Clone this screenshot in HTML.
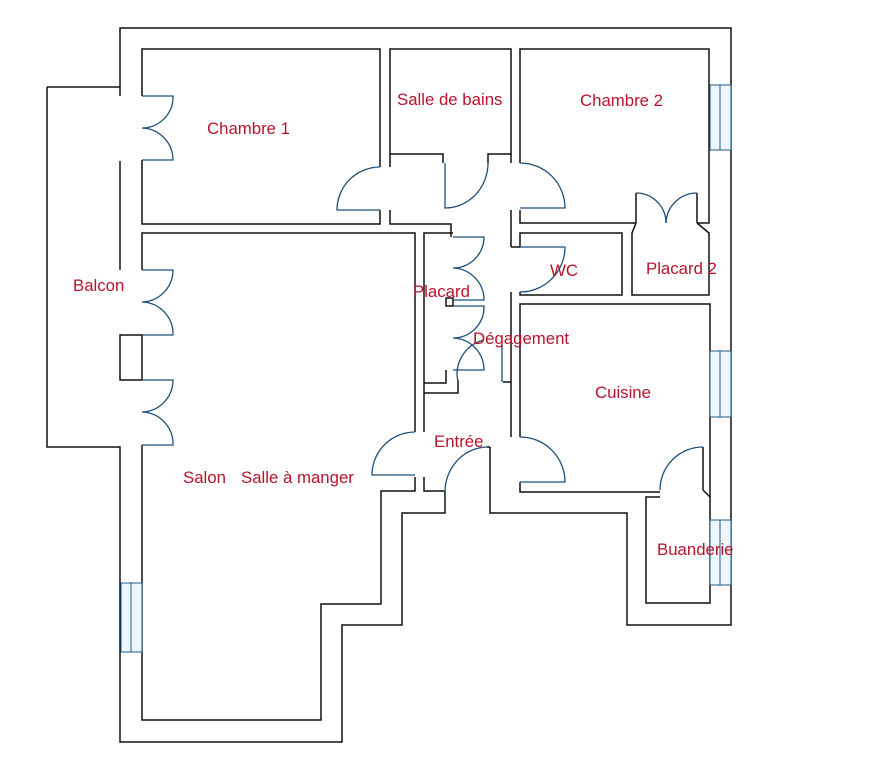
<!DOCTYPE html>
<html><head><meta charset="utf-8"><style>
html,body{margin:0;padding:0;background:#fff;}
svg{display:block}
text{font-family:"Liberation Sans",sans-serif;font-size:16.8px;fill:#b8142c;}
</style></head><body>
<svg width="870" height="763" viewBox="0 0 870 763" xmlns="http://www.w3.org/2000/svg">
<g fill="none" stroke="#111" stroke-width="1.5">
<polyline points="47,87 120,87 120,28 731,28 731,625 627,625 627,513 490,513 490,492"/>
<polyline points="445,491 445,513 402,513 402,625 342,625 342,742 120,742 120,447 47,447 47,87"/>
<polyline points="120,96 120,87"/>
<polyline points="120,161 120,270"/>
<rect x="120" y="335" width="22" height="45"/>
<polyline points="142,96 142,49 380,49 380,167"/>
<polyline points="142,160 142,224 380,224 380,210"/>
<polyline points="142,270 142,233 415,233 415,432"/>
<polyline points="142,445 142,720 321,720 321,604 381,604 381,491 415,491 415,477"/>
<polyline points="424,477 424,491 445,491"/>
<polyline points="390,167 390,49 511,49 511,163"/>
<polyline points="390,154 443,154 443,163"/>
<polyline points="488,163 488,154 511,154"/>
<polyline points="390,210 390,224 424,224"/>
<polyline points="520,163 520,49 709,49 709,223 697,223"/>
<polyline points="520,210 520,223 636,223"/>
<polyline points="511,210 511,247"/>
<polyline points="520,247 520,233 622,233 622,295 520,295 520,292"/>
<polyline points="511,247 520,247"/>
<polyline points="636,223 632,233 632,295 709,295 709,233 697,223"/>
<line x1="636" y1="193" x2="636" y2="223"/>
<line x1="697" y1="193" x2="697" y2="223"/>
<polyline points="424,224 451,224 451,237"/>
<polyline points="424,393 424,233 453,233"/>
<polyline points="424,383 446,383 446,370"/>
<polyline points="424,393 458,393 458,380"/>
<line x1="424" y1="393" x2="424" y2="432"/>
<polyline points="511,292 511,382 503,382"/>
<polyline points="511,382 511,437"/>
<polyline points="520,437 520,304 710,304 710,447"/>
<polyline points="520,482 520,492 660,492"/>
<polyline points="703,490 710,497 710,603 646,603 646,497 660,497"/>
<line x1="703" y1="447" x2="703" y2="490"/>
<line x1="710" y1="447" x2="710" y2="497"/>
<line x1="487" y1="447" x2="490" y2="447"/>
<line x1="490" y1="447" x2="490" y2="492"/>
<rect x="446" y="298" width="7" height="8"/>
</g>
<g fill="#eef6fb" stroke="#1d5a85" stroke-width="1">
<rect x="710" y="85" width="21" height="65"/>
<rect x="710" y="351" width="21" height="66"/>
<rect x="710" y="520" width="21" height="65"/>
<rect x="121" y="583" width="21" height="69"/>
</g>
<g stroke="#1d5a85" stroke-width="1">
<line x1="720" y1="85" x2="720" y2="150"/><line x1="720" y1="351" x2="720" y2="417"/>
<line x1="720" y1="520" x2="720" y2="585"/><line x1="131" y1="583" x2="131" y2="652"/>
</g>
<g fill="none" stroke="#1d4f7a" stroke-width="1.3">
<path d="M142,96 H173 A31,31 0 0 1 142,128 A32,32 0 0 1 173,160 H142"/>
<path d="M142,270 H173 A32,32 0 0 1 142,302 A32,32 0 0 1 173,335 H142"/>
<path d="M142,380 H173 A32,32 0 0 1 142,412 A32,32 0 0 1 173,445 H142"/>
<path d="M380,167 A43,43 0 0 0 337,210 H380"/>
<path d="M445,163 V208 A43,45 0 0 0 488,163"/>
<path d="M520,163 A45,45 0 0 1 565,208 H520"/>
<path d="M520,247 H565 A45,45 0 0 1 520,292"/>
<path d="M453,237 H484 A31,31 0 0 1 453,268 A32,32 0 0 1 484,300 H453"/>
<path d="M453,306 H484 A31,31 0 0 1 453,338 A32,32 0 0 1 484,370 H453"/>
<path d="M458,382 A35,35 0 0 1 484,340"/>
<line x1="502" y1="345" x2="502" y2="382"/>
<path d="M636,193 A30,30 0 0 1 666,223"/>
<path d="M697,193 A31,31 0 0 0 666,223"/>
<path d="M415,432 A43,43 0 0 0 372,475 H415"/>
<path d="M487,447 A43,45 0 0 0 445,492"/>
<path d="M520,437 A45,45 0 0 1 565,482 H520"/>
<path d="M703,447 A43,43 0 0 0 660,490"/>
</g>
<g>
<text x="207" y="134">Chambre 1</text>
<text x="397" y="105">Salle de bains</text>
<text x="580" y="106">Chambre 2</text>
<text x="73" y="291">Balcon</text>
<text x="413" y="297">Placard</text>
<text x="550" y="276">WC</text>
<text x="646" y="274">Placard 2</text>
<text x="473" y="344">Dégagement</text>
<text x="595" y="398">Cuisine</text>
<text x="434" y="447">Entrée</text>
<text x="183" y="483">Salon</text>
<text x="241" y="483">Salle à manger</text>
<text x="657" y="555">Buanderie</text>
</g>
</svg>
</body></html>
